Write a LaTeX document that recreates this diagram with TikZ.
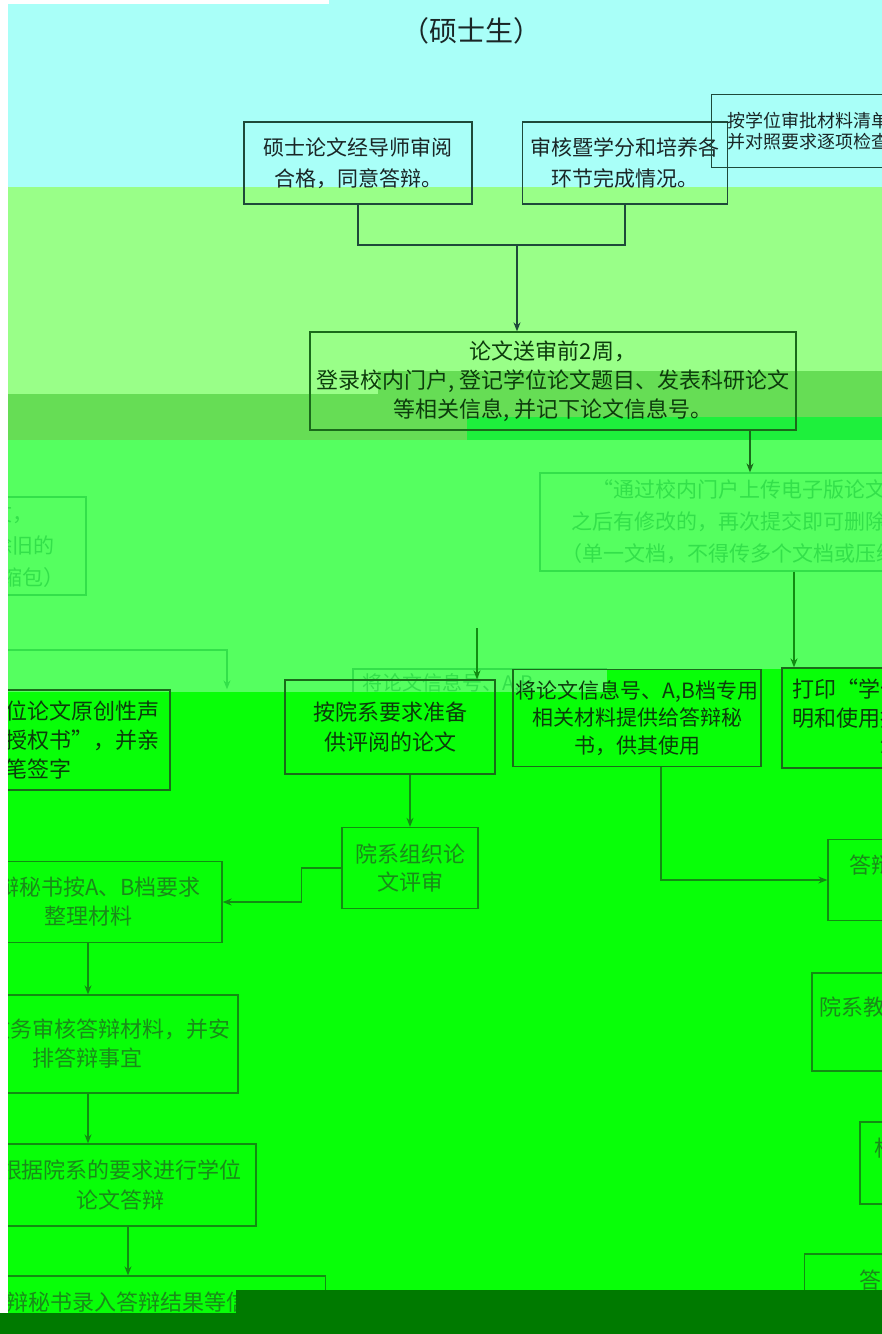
\documentclass[tikz,border=0pt]{standalone}
\usepackage{fontspec}
\setmainfont{Noto Sans CJK SC}
\usetikzlibrary{arrows.meta,positioning}

\definecolor{bgcyan}{HTML}{A9FFF8}
\definecolor{bglight}{HTML}{99FF88}
\definecolor{bgdark}{HTML}{66DD55}
\definecolor{bgglitch}{HTML}{1EF03C}
\definecolor{bgmid}{HTML}{55FF60}
\definecolor{bgbright}{HTML}{08FF08}
\definecolor{bgbottom}{HTML}{007A00}
\definecolor{lntop}{HTML}{1E4A3A}
\definecolor{lnmid}{HTML}{1A6A1A}
\definecolor{lnlow}{HTML}{128C12}
\definecolor{txtop}{HTML}{1A2626}
\definecolor{txdeep}{HTML}{0C3C0C}
\definecolor{txlow}{HTML}{1A8A1A}
\definecolor{faint}{HTML}{33E04A}

\newcommand{\fsz}[2]{\fontsize{#1}{#2}\selectfont}

\tikzset{
  box/.style={draw=lnlow, line width=1.3pt, align=center, inner sep=0pt, text=txlow},
  topbox/.style={box, draw=lntop, text=txtop},
  midbox/.style={box, draw=lnmid, text=txdeep},
  ghostbox/.style={box, draw=faint, text=faint},
  ghost/.style={text=faint, inner sep=0pt},
}

\begin{document}
\begin{tikzpicture}[x=1pt,y=-1pt,>={Stealth[length=9pt,width=7pt]},line width=1.3pt]
\useasboundingbox (0,0) rectangle (882,1334);
\clip (0,0) rectangle (882,1334);

% background bands
\fill[bgbright] (0,0) rectangle (882,1334);
\fill[bgcyan] (0,0) rectangle (882,187);
\fill[bglight] (0,187) rectangle (882,394);
\fill[bgdark] (378,371) rectangle (882,394);
\fill[bgdark] (0,394) rectangle (882,440);
\fill[bgglitch] (467,417) rectangle (882,440);
\fill[bgmid] (0,440) rectangle (882,669);
\fill[bgmid] (0,669) rectangle (607,692);

\node[font={\fsz{28}{32}}, text=txtop] (title) at (471,31) {（硕士生）};

% top row
\node[topbox, minimum width=228pt, minimum height=82pt, font={\fsz{21}{31}}] (advisor) at (358,163) {硕士论文经导师审阅\\合格，同意答辩。};
\node[topbox, minimum width=205pt, minimum height=82pt, font={\fsz{21}{31}}] (credits) at (625,163) {审核暨学分和培养各\\环节完成情况。};
\node[topbox, minimum width=193pt, minimum height=73pt, font={\fsz{18}{21}}] (check) at (808,131) {按学位审批材料清单\\并对照要求逐项检查};

\coordinate (jn) at (517,245);
\draw[lntop] (advisor.south) |- (jn) -| (credits.south);

\node[midbox, minimum width=486pt, minimum height=98pt, font={\fsz{22}{29}}] (register) at (553,381) {论文送审前2周，\\登录校内门户, 登记学位论文题目、发表科研论文\\等相关信息, 并记下论文信息号。};
\draw[->, lntop] (jn) -- (jn |- register.north);

% upload
\node[ghostbox, minimum width=420pt, minimum height=98pt, font={\fsz{21}{32}}] (upload) at (750,522) {“通过校内门户上传电子版论文，\\之后有修改的，再次提交即可删除旧的\\（单一文档，不得传多个文档或压缩包）};
\node[ghostbox, minimum width=420pt, minimum height=98pt, font={\fsz{21}{32}}] (upload_w) at (-124,546) {“通过校内门户上传电子版论文，\\之后有修改的，再次提交即可删除旧的\\（单一文档，不得传多个文档或压缩包）};
\draw[->, lnmid] (register.south -| upload.north) -- (upload.north);

% second row
\node[midbox, minimum width=262pt, minimum height=100pt, font={\fsz{22}{29}}] (print) at (913,718) {打印“学位论文原创性声\\明和使用授权书”，并亲\\笔签字};
\node[midbox, minimum width=262pt, minimum height=100pt, font={\fsz{22}{29}}] (print_w) at (39,740) {打印“学位论文原创性声\\明和使用授权书”，并亲\\笔签字};
\coordinate (hx) at (794,0);
\draw[->, lnlow] (upload.south -| hx) -- (print.north -| hx);

\coordinate (b2a) at (8,650);
\coordinate (b2b) at (227,650);
\draw[->, faint] (b2a) -- (b2b) -- (b2b |- print_w.north);

% faint stripe above the second row
\coordinate (g1) at (353,692);
\coordinate (g2) at (607,669);
\draw[faint] (g1) |- (g2);
\node[ghost, font={\fsz{20}{24}}, anchor=west] (handover_g) at (362,684) {将论文信息号、A,B};

\node[midbox, minimum width=210pt, minimum height=94pt, font={\fsz{22}{30}}] (prepare) at (390,727) {按院系要求准备\\供评阅的论文};
\node[midbox, minimum width=248pt, minimum height=97pt, font={\fsz{21}{27.5}}] (handover) at (637,718) {将论文信息号、A,B档专用\\相关材料提供给答辩秘\\书，供其使用};
\coordinate (b1) at (477,628);
\draw[->, lnlow] (b1) -- (b1 |- prepare.north);

\node[box, minimum width=136pt, minimum height=81pt, font={\fsz{22}{28}}] (review) at (410,868) {院系组织论\\文评审};
\draw[->, lnlow] (prepare.south -| review.north) -- (review.north);

% defence column, and its copy at the left edge
\node[box, minimum width=268pt, minimum height=81pt, font={\fsz{22}{29}}] (sort) at (962,880) {答辩秘书按A、B档要求\\整理材料};
\node[box, minimum width=300pt, minimum height=98pt, font={\fsz{22}{29}}] (audit) at (962,1022) {院系教务审核答辩材料，并安\\排答辩事宜};
\node[box, minimum width=270pt, minimum height=82pt, font={\fsz{22}{30}}] (defense) at (995,1163) {根据院系的要求进行学位\\论文答辩};
\node[box, minimum width=395pt, minimum height=52pt, font={\fsz{22}{29}}] (record) at (1002,1280) {答辩秘书录入答辩结果等信息};

\node[box, minimum width=268pt, minimum height=81pt, font={\fsz{22}{29}}] (sort_w) at (88,902) {答辩秘书按A、B档要求\\整理材料};
\node[box, minimum width=300pt, minimum height=98pt, font={\fsz{22}{29}}] (audit_w) at (88,1044) {院系教务审核答辩材料，并安\\排答辩事宜};
\node[box, minimum width=270pt, minimum height=82pt, font={\fsz{22}{30}}] (defense_w) at (121,1185) {根据院系的要求进行学位\\论文答辩};
\node[box, minimum width=395pt, minimum height=52pt, font={\fsz{22}{29}}] (record_w) at (128,1302) {答辩秘书录入答辩结果等信息};

\coordinate (mx) at (661,0);
\draw[->, lnlow] (handover.south -| mx) |- (sort.west);
\draw[->, lnlow] (review.west) -- ++(-40,0) |- (sort_w.east);

\draw[->, lnlow] (sort) -- (audit);
\draw[->, lnlow] (audit.south) -- (audit.south |- defense.north);
\draw[->, lnlow] (defense.south -| record.north) -- (record.north);
\draw[->, lnlow] (sort_w) -- (audit_w);
\draw[->, lnlow] (audit_w.south) -- (audit_w.south |- defense_w.north);
\draw[->, lnlow] (defense_w.south -| record_w.north) -- (record_w.north);

% bottom band and left margin
\fill[bgbottom] (236,1290) rectangle (882,1334);
\fill[bgbottom] (0,1313) rectangle (882,1334);
\fill[white] (0,0) rectangle (8,1313);
\fill[white] (0,0) rectangle (329,4);
\end{tikzpicture}
\end{document}
